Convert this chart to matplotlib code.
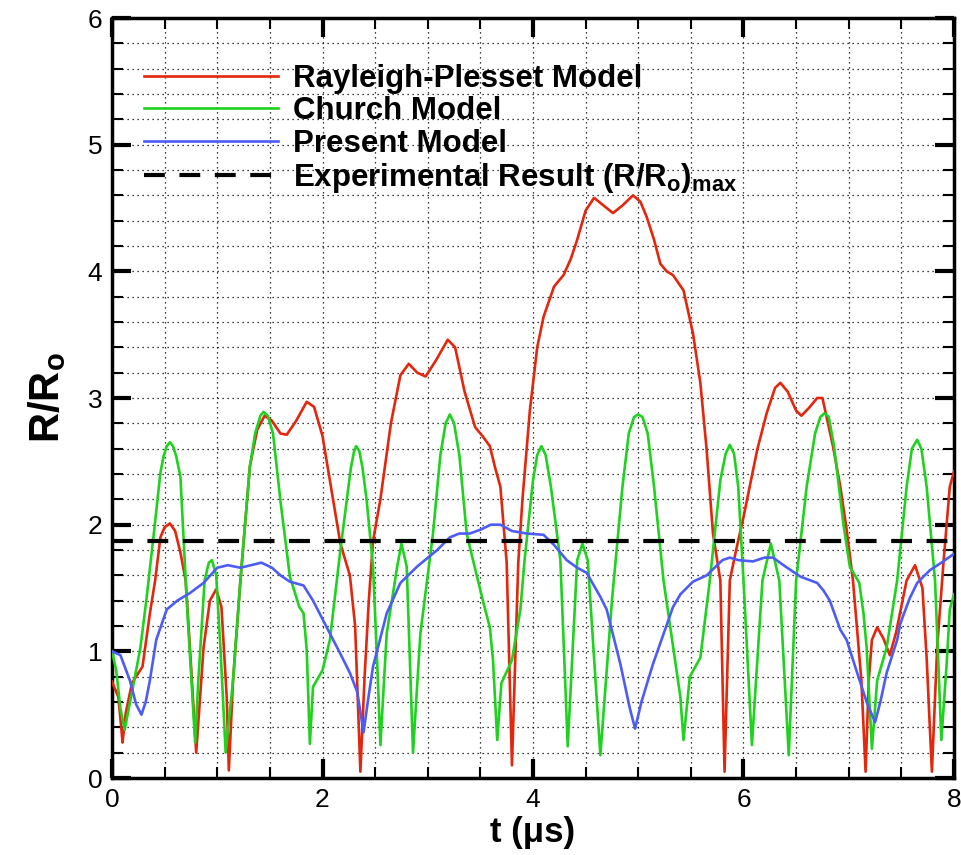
import matplotlib
matplotlib.use("Agg")
import matplotlib.pyplot as plt
from matplotlib.ticker import MultipleLocator

plt.rcParams['font.family'] = ['Liberation Sans', 'DejaVu Sans']
plt.rcParams['mathtext.fontset'] = 'custom'
plt.rcParams['mathtext.rm'] = 'Liberation Sans'
plt.rcParams['mathtext.bf'] = 'Liberation Sans:bold'
plt.rcParams['mathtext.it'] = 'Liberation Sans:italic'

# Rayleigh-Plesset model
t_rp = [0, 0.06, 0.09, 0.1, 0.13, 0.19, 0.29, 0.36, 0.41, 0.46, 0.5, 0.55, 0.6, 0.65, 0.7,
        0.75, 0.8, 0.87, 0.93, 0.99, 1.04, 1.09, 1.11, 1.15, 1.22, 1.31, 1.38, 1.45, 1.52,
        1.6, 1.66, 1.75, 1.85, 1.92, 2.0, 2.07, 2.17, 2.26, 2.31, 2.36, 2.4, 2.44, 2.48,
        2.55, 2.65, 2.74, 2.82, 2.9, 2.98, 3.08, 3.19, 3.26, 3.35, 3.45, 3.52, 3.59, 3.64,
        3.69, 3.75, 3.8, 3.86, 3.9, 3.97, 4.04, 4.1, 4.2, 4.29, 4.36, 4.42, 4.5, 4.58, 4.67,
        4.76, 4.85, 4.95, 5.02, 5.08, 5.15, 5.21, 5.27, 5.33, 5.43, 5.52, 5.59, 5.65, 5.71,
        5.78, 5.82, 5.87, 5.93, 6.0, 6.13, 6.22, 6.3, 6.35, 6.42, 6.5, 6.55, 6.62, 6.7, 6.75,
        6.85, 6.92, 6.98, 7.04, 7.12, 7.16, 7.19, 7.22, 7.27, 7.33, 7.39, 7.45, 7.55, 7.63,
        7.7, 7.74, 7.79, 7.84, 7.9, 7.96, 8.0]
r_rp = [0.76, 0.64, 0.38, 0.28, 0.51, 0.75, 0.88, 1.3, 1.56, 1.9, 1.98, 2.01, 1.95, 1.78, 1.56,
        0.9, 0.2, 1.03, 1.4, 1.49, 1.35, 0.64, 0.06, 0.77, 1.56, 2.46, 2.75, 2.86, 2.82,
        2.72, 2.71, 2.82, 2.97, 2.93, 2.7, 2.35, 1.85, 1.6, 1.2, 0.05, 0.8, 1.4, 1.87,
        2.2, 2.8, 3.18, 3.27, 3.2, 3.17, 3.3, 3.46, 3.4, 3.05, 2.77, 2.7, 2.62, 2.45,
        2.3, 1.7, 0.1, 1.7, 2.2, 2.9, 3.4, 3.64, 3.88, 3.97, 4.1, 4.25, 4.48, 4.58, 4.52,
        4.46, 4.52, 4.6, 4.55, 4.43, 4.25, 4.06, 4.0, 3.97, 3.85, 3.51, 3.12, 2.59, 1.93,
        1.56, 0.05, 1.56, 1.8, 2.06, 2.59, 2.88, 3.08, 3.12, 3.05, 2.9, 2.86, 2.92, 3.0, 3.0,
        2.62, 2.3, 1.96, 1.56, 0.77, 0.05, 0.77, 1.09, 1.19, 1.1, 0.97, 1.15, 1.56, 1.68,
        1.5, 0.95, 0.05, 1.03, 1.7, 2.3, 2.42]

# Church model
t_ch = [0, 0.04, 0.08, 0.12, 0.16, 0.2, 0.27, 0.33, 0.4, 0.46, 0.49, 0.52, 0.55, 0.58, 0.61,
        0.65, 0.71, 0.79, 0.82, 0.88, 0.92, 0.95, 0.99, 1.03, 1.08, 1.15, 1.22, 1.31, 1.36,
        1.41, 1.44, 1.48, 1.53, 1.6, 1.69, 1.78, 1.82, 1.85, 1.88, 1.91, 2.0, 2.07, 2.17,
        2.23, 2.27, 2.3, 2.32, 2.35, 2.38, 2.42, 2.48, 2.52, 2.55, 2.61, 2.71, 2.75, 2.8,
        2.86, 2.93, 3.05, 3.12, 3.17, 3.21, 3.25, 3.3, 3.37, 3.43, 3.53, 3.59, 3.62, 3.66,
        3.7, 3.8, 3.88, 3.92, 4.0, 4.04, 4.08, 4.12, 4.17, 4.26, 4.33, 4.42, 4.47, 4.52,
        4.64, 4.75, 4.85, 4.91, 4.96, 5.0, 5.04, 5.09, 5.15, 5.24, 5.4, 5.43, 5.49, 5.59,
        5.68, 5.78, 5.83, 5.87, 5.91, 5.95, 6.0, 6.08, 6.18, 6.26, 6.34, 6.43, 6.5, 6.6,
        6.68, 6.73, 6.77, 6.81, 6.86, 6.95, 7.01, 7.1, 7.14, 7.17, 7.22, 7.27, 7.36, 7.46,
        7.55, 7.6, 7.65, 7.69, 7.74, 7.82, 7.88, 7.93, 7.96, 8.0]
r_ch = [1.0, 0.85, 0.55, 0.38, 0.55, 0.72, 1.03, 1.43, 1.95, 2.41, 2.54, 2.62, 2.65, 2.62, 2.54,
        2.38, 1.4, 0.28, 0.77, 1.56, 1.7, 1.72, 1.6, 1.03, 0.2, 0.77, 1.56, 2.46, 2.72,
        2.86, 2.89, 2.86, 2.72, 2.19, 1.59, 1.35, 1.3, 1.01, 0.27, 0.72, 0.85, 1.09, 1.8,
        2.19, 2.45, 2.58, 2.62, 2.58, 2.45, 2.19, 1.67, 0.9, 0.26, 1.14, 1.67, 1.85, 1.67,
        0.2, 1.14, 1.93, 2.55, 2.8, 2.87, 2.8, 2.55, 1.93, 1.72, 1.38, 1.19, 0.93, 0.3,
        0.75, 0.93, 1.33, 1.72, 2.35, 2.55, 2.62, 2.55, 2.3, 1.72, 0.25, 1.72, 1.85, 1.72,
        0.18, 1.4, 2.3, 2.72, 2.85, 2.87, 2.85, 2.72, 2.3, 1.56, 0.64, 0.3, 0.8, 0.95,
        1.56, 2.35, 2.56, 2.63, 2.56, 2.3, 1.56, 0.26, 1.56, 1.85, 1.56, 0.18, 1.56, 2.3,
        2.72, 2.85, 2.88, 2.85, 2.62, 2.0, 1.67, 1.54, 1.3, 1.03, 0.23, 0.77, 1.03, 1.56,
        2.3, 2.6, 2.67, 2.6, 2.3, 1.56, 0.3, 0.9, 1.33, 1.45]

# Present model
t_pm = [0, 0.08, 0.17, 0.23, 0.28, 0.32, 0.36, 0.42, 0.52, 0.62, 0.74, 0.87, 1.0, 1.1, 1.22,
        1.32, 1.42, 1.52, 1.6, 1.69, 1.82, 1.91, 2.04, 2.17, 2.26, 2.33, 2.39, 2.43, 2.48,
        2.61, 2.74, 2.9, 3.09, 3.21, 3.3, 3.4, 3.5, 3.6, 3.69, 3.8, 3.94, 4.1, 4.2, 4.32,
        4.42, 4.51, 4.64, 4.7, 4.83, 4.92, 4.97, 5.03, 5.14, 5.33, 5.4, 5.52, 5.65, 5.8,
        5.87, 5.95, 6.09, 6.2, 6.28, 6.38, 6.54, 6.7, 6.76, 6.82, 6.92, 6.98, 7.08, 7.17,
        7.25, 7.3, 7.36, 7.46, 7.49, 7.58, 7.65, 7.77, 7.88, 8.0]
r_pm = [1.0, 0.97, 0.77, 0.58, 0.5, 0.6, 0.77, 1.09, 1.33, 1.4, 1.46, 1.54, 1.66, 1.68, 1.66,
        1.68, 1.7, 1.66, 1.6, 1.55, 1.52, 1.4, 1.19, 0.98, 0.83, 0.68, 0.36, 0.6, 0.88,
        1.3, 1.54, 1.67, 1.8, 1.9, 1.93, 1.93, 1.96, 2.0, 2.0, 1.95, 1.93, 1.92, 1.84, 1.72,
        1.66, 1.62, 1.43, 1.33, 0.9, 0.55, 0.39, 0.6, 0.9, 1.35, 1.45, 1.55, 1.6, 1.72,
        1.74, 1.72, 1.71, 1.74, 1.74, 1.68, 1.59, 1.54, 1.48, 1.4, 1.17, 1.09, 0.83, 0.6,
        0.44, 0.6, 0.83, 1.09, 1.22, 1.42, 1.54, 1.64, 1.7, 1.77]

exp_max = 1.87

fig = plt.figure(figsize=(9.62, 8.55), dpi=100)
ax = fig.add_axes([112 / 962, 77 / 855, 842 / 962, 760 / 855])

ax.plot(t_rp, r_rp, color='#e3260c', lw=1.9, label='Rayleigh-Plesset Model', zorder=3)
ax.plot(t_ch, r_ch, color='#1ed21e', lw=1.9, label='Church Model', zorder=3)
ax.plot(t_pm, r_pm, color='#4d5cf5', lw=1.9, label='Present Model', zorder=3)
ax.axhline(exp_max, color='black', lw=3, linestyle=(0, (5, 3.5)),
           label=r'Experimental Result (R/R$_\mathbf{o}$)$_\mathbf{max}$', zorder=4)

ax.set_xlim(0, 8)
ax.set_ylim(0, 6)
ax.xaxis.set_major_locator(MultipleLocator(2))
ax.xaxis.set_minor_locator(MultipleLocator(0.5))
ax.yaxis.set_major_locator(MultipleLocator(1))
ax.yaxis.set_minor_locator(MultipleLocator(0.2))
ax.tick_params(which='both', direction='in', top=True, right=True, labelsize=19, pad=7)
ax.tick_params(which='major', length=14, width=3)
ax.tick_params(which='minor', length=8, width=1.5)
for sp in ax.spines.values():
    sp.set_linewidth(2.5)

ax.set_axisbelow(True)
ax.grid(which='both', color='black', linestyle=(0, (1, 3)), linewidth=0.9)

ax.set_xlabel('t (μs)', fontsize=25, fontweight='bold', labelpad=3)
ax.set_ylabel(r'R/R$_\mathbf{o}$', fontsize=30, fontweight='bold', labelpad=14)

ax.legend(loc='upper left', bbox_to_anchor=(0.038, 0.94), frameon=False,
          prop={'weight': 'bold', 'size': 22.5}, handlelength=4.3, handletextpad=0.48,
          labelspacing=0.08, borderpad=0, borderaxespad=0)

fig.savefig('out.png', dpi=100)
